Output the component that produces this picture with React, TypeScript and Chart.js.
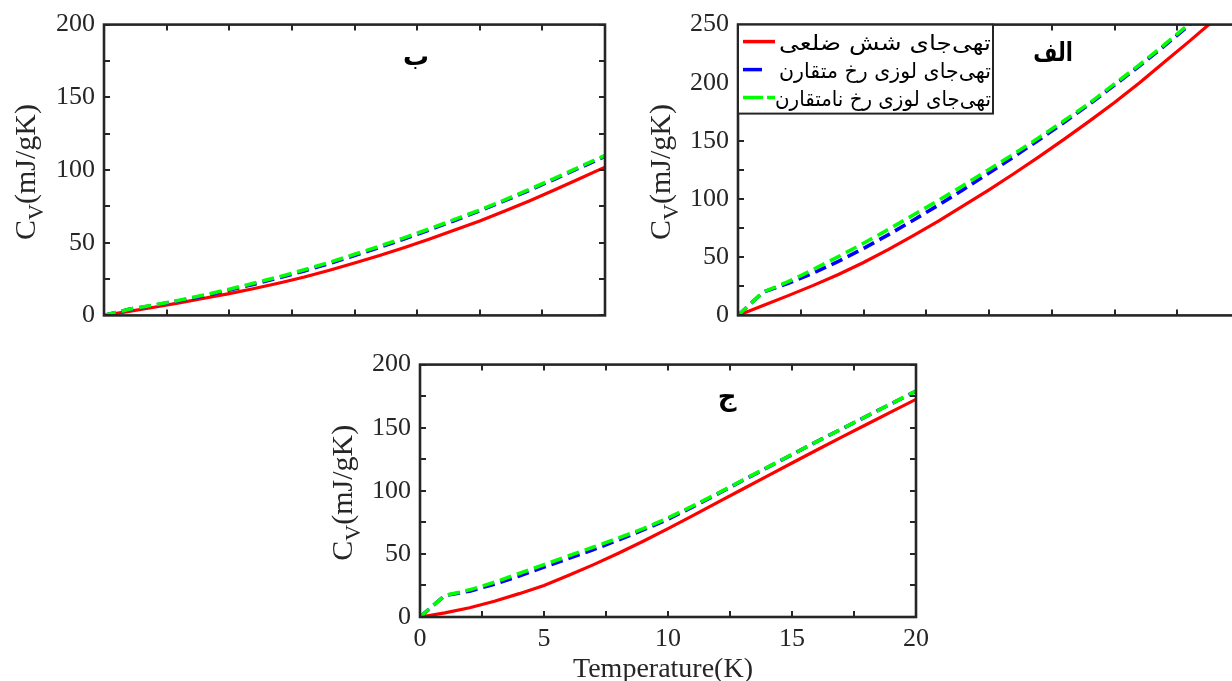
import React, { useEffect, useRef } from 'react';
import { Chart, registerables } from 'chart.js';

Chart.register(...registerables);

// ---------------- data ----------------
const temps = [0, 1, 2, 3, 4, 5, 6, 7, 8, 9, 10, 11, 12, 13, 14, 15, 16, 17, 18, 19, 20];

const seriesNames = [
  'تهی‌جای شش ضلعی',
  'تهی‌جای لوزی رخ متقارن',
  'تهی‌جای لوزی رخ نامتقارن',
];

// panel ب (top-left)
const hexB = [0, 2.8, 5.6, 8.6, 11.8, 15, 18.5, 22.3, 26.4, 31, 36, 41.2, 46.7, 52.6, 58.7, 65, 71.8, 78.9, 86.4, 94.1, 102];
const symB = [0, 4.2, 7.0, 10.1, 13.5, 17.4, 21.5, 25.9, 30.6, 35.7, 41.2, 46.8, 52.7, 58.9, 65.3, 71.9, 78.9, 86.2, 93.8, 101.6, 109.4];
const asymB = [0, 4.2, 7.2, 10.4, 14, 18, 22.2, 26.6, 31.4, 36.5, 42, 47.6, 53.5, 59.6, 66, 72.5, 79.5, 86.8, 94.4, 102.2, 110];

// panel الف (top-right)
const hexA = [0, 8.5, 17, 25.8, 35.2, 45.5, 56.8, 68.8, 81.3, 94.5, 108, 122, 136.5, 151.5, 167, 183, 200, 218, 236, 254.5, 273];
const symA = [0, 20, 27.5, 36.5, 46.5, 57.5, 69.5, 82, 95, 108.5, 122.5, 136.5, 151, 166, 181.5, 198, 214.5, 232, 250, 268, 286.5];
const asymA = [0, 20, 29, 39.5, 50.5, 62, 74, 86.5, 99, 112, 125.5, 139, 153, 167.5, 182.5, 199, 215.5, 233, 251, 269, 287];

// panel ج (bottom)
const hexC = [0, 3.3, 7.3, 12.5, 18.5, 25, 33, 41.5, 50.5, 60, 70, 80.3, 90.8, 101.2, 111.6, 122, 132.3, 142.5, 152.5, 162.5, 172.5];
const symC = [0, 17, 20.5, 26, 32.5, 39.5, 46.5, 53.5, 61, 69, 77.5, 87.3, 97.5, 108, 118.4, 128.7, 139, 149, 159, 169, 179];
const asymC = [0, 17, 21.5, 27.5, 34.5, 41.5, 48.5, 55.5, 62.5, 70, 78.5, 88, 98, 108.3, 118.6, 128.8, 139, 149, 159, 169, 179];

const xMin = 0;
const xMax = 20;
const xStep = 2.5;
const xLabelStep = 5;
const yStep = 25;
const yLabelStep = 50;
const xTitle = 'Temperature(K)';
const yTitleMain = 'C';
const yTitleSub = 'V';
const yTitleRest = '(mJ/gK)';

// ---------------- styling ----------------
const AXIS = '#262626';
const SERIF = '"Liberation Serif", "Times New Roman", serif';
const ARABIC = '"DejaVu Sans", sans-serif';
const COLORS = ['#ff0000', '#0000ff', '#00ff00'];
const LEGEND_TEXT_WIDTHS = [212, 212, 216];

type Deco = {
  yTitleX: number;
  panelLabel: string;
  panelLabelX: number;
  panelLabelY: number;
  panelLabelScale?: number;
  legend?: boolean;
  xTitleX?: number;
  xTitleY?: number;
};

const decoPlugin = {
  id: 'deco',
  afterDatasetsDraw(chart: any, _args: any, opts: Deco) {
    const { ctx, chartArea: a, scales } = chart;
    const x = scales.x;
    const y = scales.y;
    ctx.save();
    // ticks pointing inward on all four sides
    ctx.strokeStyle = AXIS;
    ctx.lineWidth = 2;
    const L = 6;
    ctx.beginPath();
    x.ticks.forEach((t: any) => {
      const px = Math.round(x.getPixelForValue(t.value));
      ctx.moveTo(px, a.bottom);
      ctx.lineTo(px, a.bottom - L);
      ctx.moveTo(px, a.top);
      ctx.lineTo(px, a.top + L);
    });
    y.ticks.forEach((t: any) => {
      const py = Math.round(y.getPixelForValue(t.value));
      ctx.moveTo(a.left, py);
      ctx.lineTo(a.left + L, py);
      ctx.moveTo(a.right, py);
      ctx.lineTo(a.right - L, py);
    });
    ctx.stroke();
    // box
    ctx.lineWidth = 2.6;
    ctx.strokeRect(a.left, a.top, a.right - a.left, a.bottom - a.top);

    // y title with subscript
    const F = 30;
    const Fs = 22;
    ctx.fillStyle = AXIS;
    ctx.font = `${F}px ${SERIF}`;
    const wC = ctx.measureText(yTitleMain).width;
    const wR = ctx.measureText(yTitleRest).width;
    ctx.font = `${Fs}px ${SERIF}`;
    const wV = ctx.measureText(yTitleSub).width;
    const total = wC + wV + wR;
    const cy = (a.top + a.bottom) / 2 + 2;
    ctx.translate(opts.yTitleX, cy);
    ctx.rotate(-Math.PI / 2);
    ctx.textAlign = 'left';
    ctx.textBaseline = 'alphabetic';
    const base = F * 0.33;
    let sx = -total / 2;
    ctx.font = `${F}px ${SERIF}`;
    ctx.fillText(yTitleMain, sx, base);
    sx += wC;
    ctx.font = `${Fs}px ${SERIF}`;
    ctx.fillText(yTitleSub, sx, base + F * 0.27);
    sx += wV;
    ctx.font = `${F}px ${SERIF}`;
    ctx.fillText(yTitleRest, sx, base);
    ctx.setTransform(1, 0, 0, 1, 0, 0);

    // x title
    if (opts.xTitleX !== undefined) {
      ctx.font = `28px ${SERIF}`;
      ctx.textAlign = 'center';
      ctx.textBaseline = 'alphabetic';
      ctx.fillText(xTitle, opts.xTitleX, opts.xTitleY);
    }

    // panel label
    ctx.fillStyle = '#000';
    ctx.font = `bold 26px ${ARABIC}`;
    ctx.textAlign = 'center';
    ctx.textBaseline = 'middle';
    ctx.save();
    ctx.translate(opts.panelLabelX, opts.panelLabelY);
    ctx.scale(opts.panelLabelScale || 1, 1);
    ctx.fillText(opts.panelLabel, 0, 0);
    ctx.restore();

    // legend
    if (opts.legend) {
      const bx = a.left;
      const by = a.top;
      const bw = 255;
      const bh = 89;
      ctx.fillStyle = '#fff';
      ctx.fillRect(bx, by, bw, bh);
      ctx.strokeStyle = AXIS;
      ctx.lineWidth = 2;
      ctx.strokeRect(bx, by, bw, bh);
      const rows = [17, 45, 73];
      ctx.lineWidth = 3.5;
      ctx.lineCap = 'butt';
      // red solid
      ctx.strokeStyle = COLORS[0];
      ctx.beginPath();
      ctx.moveTo(bx + 5, by + rows[0]);
      ctx.lineTo(bx + 37, by + rows[0]);
      ctx.stroke();
      // blue dash
      ctx.strokeStyle = COLORS[1];
      ctx.beginPath();
      ctx.moveTo(bx + 5, by + rows[1]);
      ctx.lineTo(bx + 24, by + rows[1]);
      ctx.stroke();
      // green dash dash
      ctx.strokeStyle = COLORS[2];
      ctx.beginPath();
      ctx.moveTo(bx + 5, by + rows[2]);
      ctx.lineTo(bx + 25, by + rows[2]);
      ctx.moveTo(bx + 29, by + rows[2]);
      ctx.lineTo(bx + 37, by + rows[2]);
      ctx.stroke();
      ctx.fillStyle = '#000';
      ctx.font = `21px ${ARABIC}`;
      ctx.textAlign = 'right';
      ctx.textBaseline = 'alphabetic';
      seriesNames.forEach((n, i) => {
        const w = ctx.measureText(n).width;
        const k = LEGEND_TEXT_WIDTHS[i] / w;
        ctx.save();
        ctx.translate(bx + bw - 2, by + rows[i] + 8);
        ctx.scale(k, 1);
        ctx.fillText(n, 0, 0);
        ctx.restore();
      });
    }
    ctx.restore();
  },
};

function makeConfig(
  hex: number[],
  sym: number[],
  asym: number[],
  yMax: number,
  showXLabels: boolean,
  yAxisWidth: number,
  xAxisHeight: number,
  padTop: number,
  padRight: number,
  deco: Deco
): any {
  const pts = (arr: number[]) => temps.map((t, i) => ({ x: t, y: arr[i] }));
  return {
    type: 'line',
    data: {
      datasets: [
        { label: seriesNames[0], data: pts(hex), borderColor: COLORS[0], borderWidth: 3.2, pointRadius: 0, tension: 0, order: 3 },
        { label: seriesNames[1], data: pts(sym), borderColor: COLORS[1], borderWidth: 3.6, borderDash: [12, 6], pointRadius: 0, tension: 0, order: 2 },
        { label: seriesNames[2], data: pts(asym), borderColor: COLORS[2], borderWidth: 3.6, borderDash: [12, 6], pointRadius: 0, tension: 0, order: 1 },
      ],
    },
    options: {
      responsive: false,
      animation: false,
      events: [],
      layout: { padding: { top: padTop, right: padRight, left: 0, bottom: 0 } },
      plugins: {
        legend: { display: false },
        tooltip: { enabled: false },
        title: { display: false },
        deco,
      },
      scales: {
        x: {
          type: 'linear',
          min: xMin,
          max: xMax,
          grid: { display: false, drawTicks: false },
          border: { display: false },
          ticks: {
            display: showXLabels,
            stepSize: xStep,
            autoSkip: false,
            maxRotation: 0,
            padding: 7,
            color: AXIS,
            font: { family: SERIF, size: 26 },
            callback: (v: number) => (v % xLabelStep === 0 ? String(v) : ''),
          },
          afterFit: (s: any) => {
            s.height = xAxisHeight;
          },
        },
        y: {
          type: 'linear',
          min: 0,
          max: yMax,
          grid: { display: false, drawTicks: false },
          border: { display: false },
          ticks: {
            stepSize: yStep,
            autoSkip: false,
            padding: 9,
            color: AXIS,
            font: { family: SERIF, size: 26 },
            callback: (v: number) => (v % yLabelStep === 0 ? String(v) : ''),
          },
          afterFit: (s: any) => {
            s.width = yAxisWidth;
          },
        },
      },
    },
    plugins: [decoPlugin],
  };
}

function Panel(props: { left: number; top: number; width: number; height: number; make: () => any }) {
  const ref = useRef<HTMLCanvasElement | null>(null);
  useEffect(() => {
    const chart = new Chart(ref.current as HTMLCanvasElement, props.make());
    return () => chart.destroy();
  }, []);
  return (
    <canvas
      ref={ref}
      width={props.width}
      height={props.height}
      style={{ position: 'absolute', left: props.left, top: props.top, width: props.width, height: props.height }}
    />
  );
}

export default function App() {
  return (
    <div
      style={{
        position: 'fixed',
        left: 0,
        top: 0,
        width: 1232,
        height: 681,
        overflow: 'hidden',
        background: '#fff',
      }}
    >
      <Panel
        left={0}
        top={0}
        width={630}
        height={340}
        make={() =>
          makeConfig(hexB, symB, asymB, 200, false, 104, 24, 23, 25, {
            yTitleX: 25,
            panelLabel: 'ب',
            panelLabelX: 416,
            panelLabelY: 58,
          })
        }
      />
      <Panel
        left={640}
        top={0}
        width={620}
        height={340}
        make={() =>
          makeConfig(hexA, symA, asymA, 250, false, 98, 24, 23, 20, {
            yTitleX: 20,
            panelLabel: 'الف',
            panelLabelX: 413,
            panelLabelY: 54,
            panelLabelScale: 0.8,
            legend: true,
          })
        }
      />
      <Panel
        left={300}
        top={340}
        width={640}
        height={341}
        make={() =>
          makeConfig(hexC, symC, asymC, 200, true, 120, 64, 22, 24, {
            yTitleX: 42,
            panelLabel: 'ج',
            panelLabelX: 427,
            panelLabelY: 58,
            xTitleX: 363,
            xTitleY: 337,
          })
        }
      />
    </div>
  );
}
